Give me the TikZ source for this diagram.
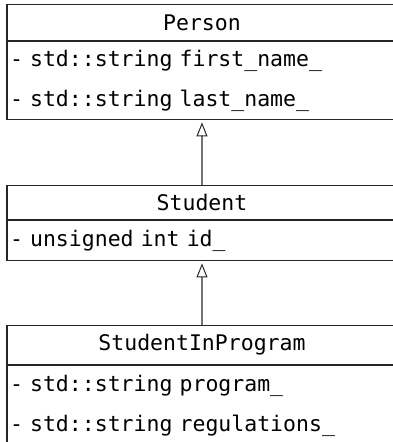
\documentclass[tikz,border=0pt]{standalone}
\usepackage{fontspec}
\setmonofont{DejaVu Sans Mono}
\usetikzlibrary{positioning,arrows.meta}

% monospaced text, one full cell per space
\newcommand{\umlfont}{\ttfamily\fontsize{21.5}{40}\selectfont\spaceskip=0.602em\relax}

\tikzset{
    classname/.style={draw=black!85, line width=1.2pt, minimum width=390pt, inner sep=0pt,
        font=\umlfont},
    classattr/.style={draw=black!85, line width=1.2pt, text width=384pt, align=left,
        inner xsep=3pt, inner ysep=0pt, font=\umlfont},
    inherits/.style={draw=black!55, line width=1.2pt, shorten >=2pt,
        -{Triangle[open, width=11pt, length=14pt, color=black!85, line width=1pt]}}
}

\begin{document}
\begin{tikzpicture}[x=1pt, y=1pt]
    \useasboundingbox (0,0) rectangle (393,-442);
    \clip (0,0) rectangle (393,-442);

    % Person
    \node[classname, anchor=north, minimum height=35.5pt] (person) at (202,-4) {Person};
    \node[classattr, below=0pt of person, minimum height=78.5pt] (personattr)
        {- std::string first\_name\_\\- std::string last\_name\_};

    % Student
    \node[classname, anchor=north, minimum height=34pt] (student) at (202,-185) {Student};
    \node[classattr, below=0pt of student, minimum height=40pt] (studentattr)
        {- unsigned int id\_};

    % StudentInProgram
    \node[classname, anchor=north, minimum height=39pt] (program) at (202,-325) {StudentInProgram};
    \node[classattr, below=0pt of program, minimum height=80pt] (programattr)
        {- std::string program\_\\- std::string regulations\_};

    % generalisation
    \draw[inherits] (student.north) -- (personattr.south);
    \draw[inherits] (program.north) -- (studentattr.south);
\end{tikzpicture}
\end{document}
